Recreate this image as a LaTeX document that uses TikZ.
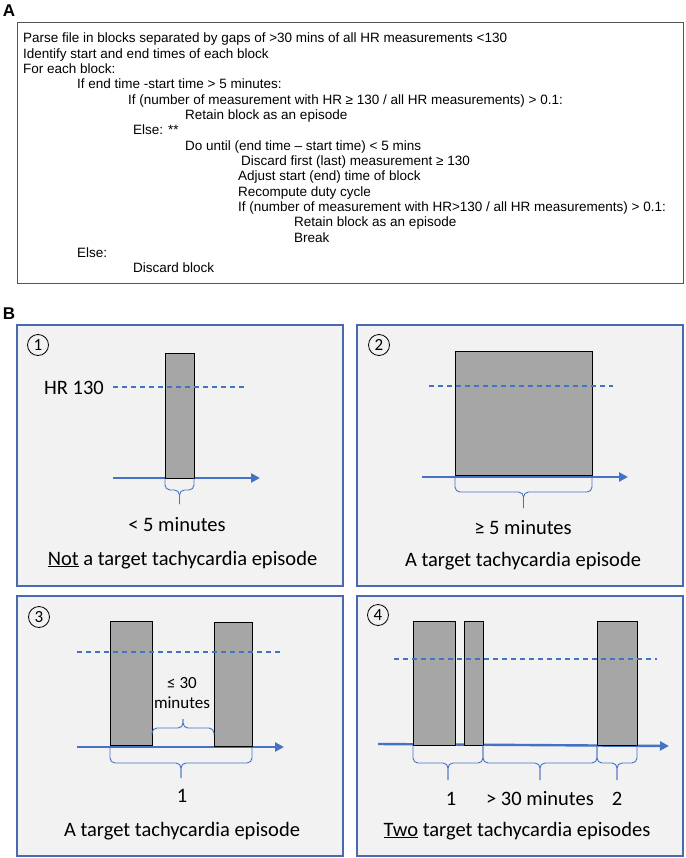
\documentclass[tikz,border=0pt]{standalone}
\usepackage{fontspec}
\setmainfont{Carlito}
\newfontfamily\arialf{Liberation Sans}
\usetikzlibrary{arrows.meta}
\definecolor{hrblue}{RGB}{68,114,196}
\definecolor{panelborder}{RGB}{74,106,176}
\definecolor{panelfill}{RGB}{242,242,242}
\definecolor{barfill}{RGB}{166,166,166}
\definecolor{boxborder}{RGB}{85,85,85}
\newcommand\tbrace[5]{%
  \draw[bracepath] (#1,#3) -- (#1,#4) -- ({(#1+#2)/2},#4) -- ({(#1+#2)/2},#5);
  \draw[bracepath] (#2,#3) -- (#2,#4) -- ({(#1+#2)/2},#4) -- ({(#1+#2)/2},#5);}
\begin{document}
\begin{tikzpicture}[x=1pt,y=-1pt,
  panel/.style={draw=panelborder, fill=panelfill, line width=1.3pt},
  bar/.style={draw=black, fill=barfill, line width=0.9pt},
  thresh/.style={draw=hrblue, line width=1.1pt, dash pattern=on 5pt off 4pt},
  timeaxis/.style={draw=hrblue, line width=2.4pt, -{Triangle[length=9pt,width=9pt]}},
  bracepath/.style={draw=hrblue, line width=0.9pt, rounded corners=5pt},
  code/.style={anchor=base west, inner sep=0, font=\arialf\fontsize{13.5}{15}\selectfont},
  lab/.style={anchor=base, inner sep=0, font=\fontsize{20.5}{24}\selectfont},
  smalllab/.style={anchor=base, inner sep=0, font=\fontsize{17}{20}\selectfont},
  num/.style={circle, draw, line width=0.8pt, minimum size=21pt, inner sep=0, font=\fontsize{17}{17}\selectfont},
  panellabel/.style={inner sep=0, font=\arialf\bfseries\fontsize{17}{17}\selectfont}
]
\useasboundingbox[fill=white] (0,0) rectangle (685,858);

% ---------- Panel A ----------
\node[panellabel] (labA) at (9,11) {A};
\draw[draw=boxborder, line width=1pt] (17,23) rectangle (683,283);
\node[code] (l1) at (23,42.8) {Parse file in blocks separated by gaps of >30 mins of all HR measurements <130};
\node[code] (l2) at (23,58.1) {Identify start and end times of each block};
\node[code] (l3) at (23,73.5) {For each block:};
\node[code] (l4) at (77,88.8) {If end time -start time > 5 minutes:};
\node[code] (l5) at (128,104.1) {If (number of measurement with HR ≥ 130 / all HR measurements) > 0.1:};
\node[code] (l6) at (185,119.5) {Retain block as an episode};
\node[code] (l7) at (133,134.8) {Else: **};
\node[code] (l8) at (185,150.1) {Do until (end time – start time) < 5 mins};
\node[code] (l9) at (241,165.5) {Discard first (last) measurement ≥ 130};
\node[code] (l10) at (238,180.8) {Adjust start (end) time of block};
\node[code] (l11) at (238,196.1) {Recompute duty cycle};
\node[code] (l12) at (238,211.5) {If (number of measurement with HR>130 / all HR measurements) > 0.1:};
\node[code] (l13) at (294,226.8) {Retain block as an episode};
\node[code] (l14) at (294,242.1) {Break};
\node[code] (l15) at (77,257.5) {Else:};
\node[code] (l16) at (133,272.8) {Discard block};

% ---------- Panel B ----------
\node[panellabel] (labB) at (9,314) {B};
\draw[panel] (17,325) rectangle (343,586);
\draw[panel] (357,325) rectangle (683,586);
\draw[panel] (17,596) rectangle (343,856);
\draw[panel] (357,596) rectangle (683,856);

% Panel 1
\node[num] (n1) at (38,345) {1};
\draw[timeaxis] (113,478) -- (260,478);
\draw[bar] (165,353) rectangle (194,478);
\draw[thresh] (113,387) -- (247,387);
\node[lab] (hr) at (74,394) {HR 130};
\tbrace{165}{194}{478}{490}{504}
\node[lab] (d1) at (177,531) {< 5 minutes};
\node[lab] (t1) at (182.5,565) {\underline{Not} a target tachycardia episode};

% Panel 2
\node[num] (n2) at (379,345) {2};
\draw[timeaxis] (422,477) -- (628,477);
\draw[bar] (455,351) rectangle (592,475);
\draw[thresh] (429,386) -- (613,386);
\tbrace{455}{592}{477}{492}{508}
\node[lab] (d2) at (523,534) {≥ 5 minutes};
\node[lab] (t2) at (523,566) {A target tachycardia episode};

% Panel 3
\node[num] (n3) at (39,617) {3};
\draw[timeaxis] (77,747) -- (284,747);
\draw[bar] (110,621) rectangle (152,745);
\draw[bar] (214,622) rectangle (252,746);
\draw[thresh] (77,652) -- (282,652);
\tbrace{152}{214}{735}{728}{719}
\node[smalllab] (d3a) at (182,688.5) {≤ 30};
\node[smalllab] (d3b) at (182,708.5) {minutes};
\tbrace{110}{252}{747}{763}{778}
\node[lab] (e3) at (182,802) {1};
\node[lab] (t3) at (182,836) {A target tachycardia episode};

% Panel 4
\node[num] (n4) at (378,615) {4};
\draw[timeaxis] (378,744) -- (669,746);
\draw[bar] (413,621) rectangle (455,745);
\draw[bar] (464,621) rectangle (483,745);
\draw[bar] (597,621) rectangle (637,745);
\draw[thresh] (394,659) -- (657,659);
\tbrace{413}{483}{745}{763}{780}
\tbrace{483}{597}{745}{763}{780}
\tbrace{597}{637}{745}{763}{780}
\node[lab] (e4a) at (451,805) {1};
\node[lab] (g4) at (540,805) {> 30 minutes};
\node[lab] (e4b) at (617,805) {2};
\node[lab] (t4) at (517,836) {\underline{Two} target tachycardia episodes};
\end{tikzpicture}
\end{document}
